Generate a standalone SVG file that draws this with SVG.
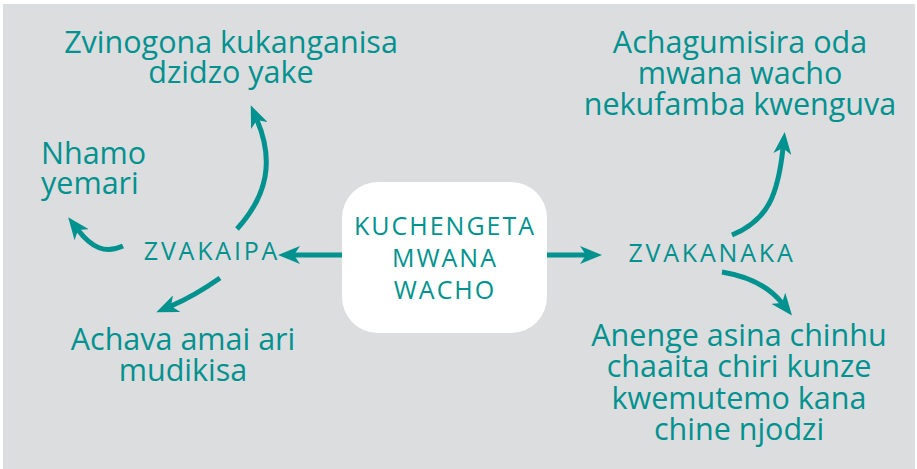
<svg xmlns="http://www.w3.org/2000/svg" width="917" height="469" viewBox="0 0 917 469">
  <style>
    .t { font-family: "Comic Sans MS", "Open Sans", "DejaVu Sans", sans-serif; fill: #00928f; text-anchor: middle; }
    .big { font-size: 30.5px; }
    .cap { font-size: 25px; letter-spacing: 2px; }
    .side { font-size: 25px; letter-spacing: 2.8px; }
    .conn { fill: none; stroke: #00928f; stroke-width: 5; stroke-linecap: butt; marker-end: url(#ah); }
  </style>
  <defs>
    <marker id="ah" viewBox="0 -9 22 18" markerWidth="22" markerHeight="18" refX="6" refY="0" orient="auto" markerUnits="userSpaceOnUse">
      <path d="M22,0 L0,-9 L6,0 L0,9 Z" fill="#00928f"/>
    </marker>
  </defs>
  <rect x="0" y="0" width="917" height="469" fill="#ffffff"/>
  <rect x="3" y="4" width="912" height="465" fill="#dcdddf"/>

  <g id="connectors">
    <path class="conn" d="M342,255 L294,255"/>
    <path class="conn" d="M547,255 L586,255"/>
    <path class="conn" d="M237,229 C268,195 274,160 257,120"/>
    <path class="conn" d="M123,246 C105,254 92,248 78,230"/>
    <path class="conn" d="M220,278 C200,292 185,300 171,306"/>
    <path class="conn" d="M732,235 C768,220 778,195 783,148"/>
    <path class="conn" d="M722,272 C752,277 770,288 782,303"/>
  </g>

  <g id="center">
    <rect x="342" y="182" width="205" height="151" rx="36" ry="36" fill="#ffffff"/>
    <text class="t cap" x="445" y="235"><tspan x="445" y="235">KUCHENGETA</tspan><tspan x="445" y="267">MWANA</tspan><tspan x="445" y="299">WACHO</tspan></text>
  </g>

  <g id="zvakaipa">
    <text class="t side" x="212" y="260">ZVAKAIPA</text>
  </g>

  <g id="zvakanaka">
    <text class="t side" x="712" y="262">ZVAKANAKA</text>
  </g>

  <g id="zvinogona">
    <text class="t big"><tspan x="231" y="53">Zvinogona kukanganisa</tspan><tspan x="231" y="83">dzidzo yake</tspan></text>
  </g>

  <g id="nhamo">
    <text class="t big" style="text-anchor:start"><tspan x="41" y="164">Nhamo</tspan><tspan x="41" y="194">yemari</tspan></text>
  </g>

  <g id="achava">
    <text class="t big"><tspan x="183" y="350">Achava amai ari</tspan><tspan x="183" y="381">mudikisa</tspan></text>
  </g>

  <g id="achagumisira">
    <text class="t big"><tspan x="740" y="53">Achagumisira oda</tspan><tspan x="740" y="84">mwana wacho</tspan><tspan x="740" y="115">nekufamba kwenguva</tspan></text>
  </g>

  <g id="anenge">
    <text class="t big"><tspan x="739" y="346">Anenge asina chinhu</tspan><tspan x="739" y="377">chaaita chiri kunze</tspan><tspan x="739" y="409">kwemutemo kana</tspan><tspan x="739" y="440">chine njodzi</tspan></text>
  </g>
</svg>
